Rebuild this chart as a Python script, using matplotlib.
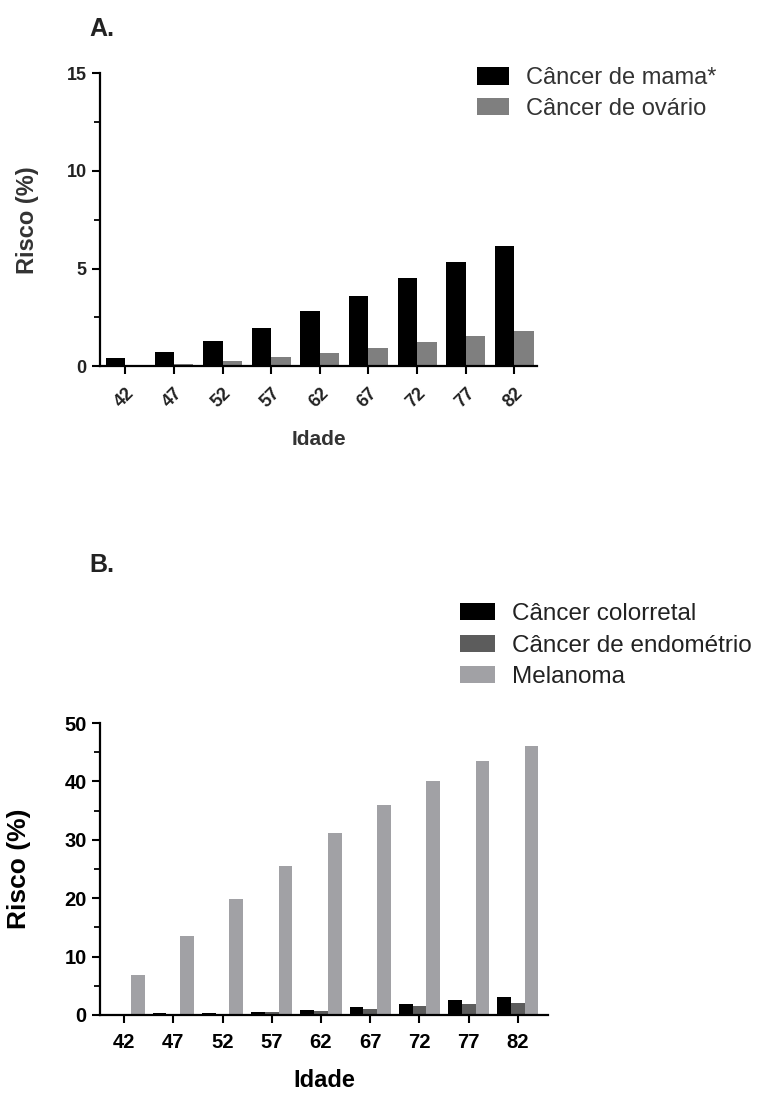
import numpy as np
import matplotlib
matplotlib.use("Agg")
import matplotlib.pyplot as plt
from matplotlib.ticker import MultipleLocator

plt.rcParams['font.family'] = ['Liberation Sans', 'DejaVu Sans']

idades = ['42', '47', '52', '57', '62', '67', '72', '77', '82']

# painel A
mama = [0.4, 0.75, 1.3, 1.95, 2.8, 3.6, 4.5, 5.35, 6.15]
ovario = [0.02, 0.1, 0.25, 0.45, 0.65, 0.95, 1.25, 1.55, 1.8]

# painel B
colorretal = [0.1, 0.3, 0.3, 0.5, 0.8, 1.3, 1.9, 2.6, 3.1]
endometrio = [0.05, 0.2, 0.2, 0.45, 0.7, 1.1, 1.6, 1.9, 2.1]
melanoma = [6.85, 13.6, 19.9, 25.6, 31.2, 36.0, 40.1, 43.5, 46.1]

fig = plt.figure(figsize=(7.59, 10.93), dpi=100)

def style(ax, size, color):
    ax.spines['top'].set_visible(False)
    ax.spines['right'].set_visible(False)
    for s in ('left', 'bottom'):
        ax.spines[s].set_linewidth(1.6)
    ax.tick_params(direction='out', width=1.5, length=6, labelsize=size, labelcolor=color)
    ax.tick_params(which='minor', direction='out', width=1.3, length=4)
    ax.tick_params(axis='x', which='minor', bottom=False)
    for lab in ax.get_xticklabels() + ax.get_yticklabels():
        lab.set_fontweight('bold')

# ---- A ----
axA = fig.add_axes([0.1318, 0.665, 0.576, 0.268])
x = np.arange(len(idades))
w = 0.4
axA.bar(x - w / 2, mama, w, color='black', label='Câncer de mama*')
axA.bar(x + w / 2, ovario, w, color='#7f7f7f', label='Câncer de ovário')
axA.set_xlim(-0.52, 8.47)
axA.set_ylim(0, 15)
axA.yaxis.set_major_locator(MultipleLocator(5))
axA.yaxis.set_minor_locator(MultipleLocator(2.5))
axA.set_xticks(x)
axA.set_xticklabels(idades, rotation=45, ha='right', rotation_mode='anchor')
style(axA, 13, '#222222')
axA.tick_params(axis='x', pad=7)
axA.set_ylabel('Risco (%)', fontsize=17, fontweight='bold', color='#333333', labelpad=20)
axA.set_xlabel('Idade', fontsize=15, fontweight='bold', color='#333333', labelpad=14)
axA.legend(loc='upper left', bbox_to_anchor=(0.6285, 0.9387), bbox_transform=fig.transFigure,
           frameon=False, fontsize=17, handlelength=1.36, handleheight=0.78,
           labelspacing=0.36, handletextpad=0.7, borderpad=0, borderaxespad=0,
           labelcolor='#333333')
fig.text(0.118, 0.984, 'A.', fontsize=18, fontweight='bold', color='#222222', va='top')

# ---- B ----
axB = fig.add_axes([0.1318, 0.0714, 0.59, 0.267])
w = 0.28
axB.bar(x - w, colorretal, w, color='black', label='Câncer colorretal')
axB.bar(x, endometrio, w, color='#5c5c5c', label='Câncer de endométrio')
axB.bar(x + w, melanoma, w, color='#a1a1a5', label='Melanoma')
axB.set_xlim(-0.49, 8.61)
axB.set_ylim(0, 50)
axB.yaxis.set_major_locator(MultipleLocator(10))
axB.yaxis.set_minor_locator(MultipleLocator(5))
axB.set_xticks(x)
axB.set_xticklabels(idades)
style(axB, 14.5, 'black')
axB.tick_params(axis='x', pad=7)
axB.set_ylabel('Risco (%)', fontsize=19, fontweight='bold', labelpad=24)
axB.set_xlabel('Idade', fontsize=17, fontweight='bold', labelpad=12)
axB.legend(loc='upper left', bbox_to_anchor=(0.606, 0.4483), bbox_transform=fig.transFigure,
           frameon=False, fontsize=17.5, handlelength=1.44, handleheight=0.7,
           labelspacing=0.4, handletextpad=0.7, borderpad=0, borderaxespad=0,
           labelcolor='#222222')
fig.text(0.118, 0.494, 'B.', fontsize=18, fontweight='bold', color='#222222', va='top')

fig.savefig('out.png', dpi=100)
